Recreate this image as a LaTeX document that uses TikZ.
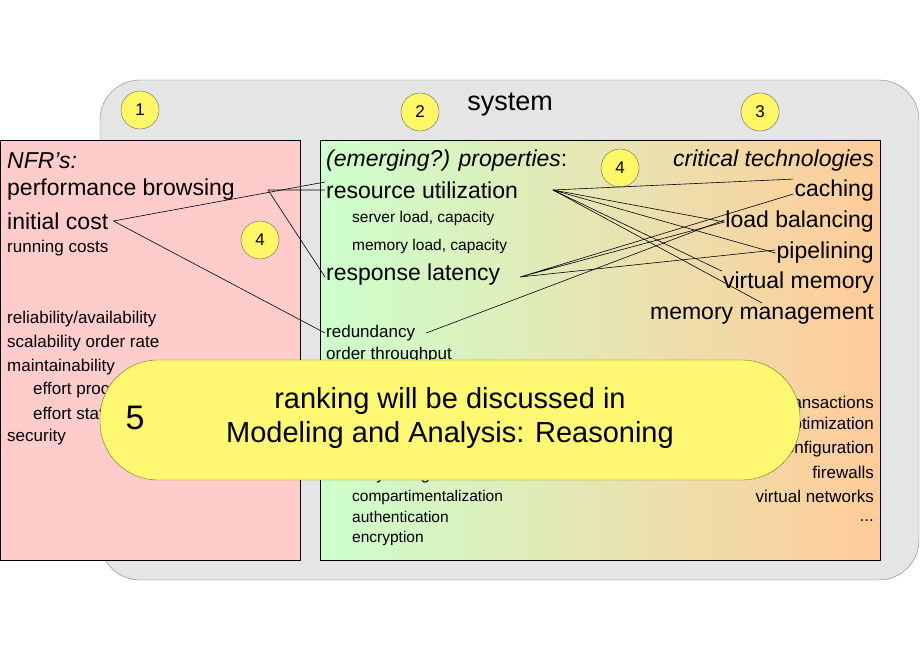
\documentclass[tikz,border=0pt]{standalone}
\usepackage{fontspec}
\setmainfont{Liberation Sans}
\begin{document}
\begin{tikzpicture}[x=1pt,y=-1pt,
 num/.style={circle,draw=black!60,fill=yellow!60,minimum size=38pt,inner sep=0pt,font=\fontsize{17}{17}\selectfont},
 big/.style={font=\fontsize{23}{23}\selectfont,inner sep=1pt},
 mid/.style={font=\fontsize{17}{17}\selectfont,inner sep=1pt},
 sm/.style={font=\fontsize{15.5}{15.5}\selectfont,inner sep=1pt},
 ln/.style={black,line width=0.6pt}]
\useasboundingbox (0,0) rectangle (920,660);
\draw[draw=black!50,fill=black!10,rounded corners=40] (100,80) rectangle (919,580);
\node[font=\fontsize{27}{27}\selectfont] (sys) at (510,105) {system};
\draw[fill=red!20] (0,140) rectangle (300,560);
\shade[left color=green!20,right color=orange!40] (320,140) rectangle (880,560);
\draw (320,140) rectangle (880,560);
\node[num] (c1) at (140,110) {1};
\node[num] (c2) at (420,112) {2};
\node[num] (c3) at (760,112) {3};
\node[num] (c4a) at (620,168) {4};
\node[num] (c4b) at (260,240) {4};
% left
\node[big,anchor=west] (nfr) at (6,161) {\itshape NFR's:};
\node[big,anchor=west] (pb) at (6,190) {performance browsing};
\node[big,anchor=west] (ic) at (6,221) {initial cost};
\node[mid,anchor=west] (rc) at (6,248) {running costs};
\node[mid,anchor=west] (ra) at (6,319) {reliability/availability};
\node[mid,anchor=west] (so) at (6,343) {scalability order rate};
\node[mid,anchor=west] (ma) at (6,367) {maintainability};
\node[mid,anchor=west] (ep) at (32,390) {effort process};
\node[mid,anchor=west] (es) at (32,413) {effort staff};
\node[mid,anchor=west] (se) at (6,437) {security};
% middle
\node[big,anchor=west] (ep2) at (325,161) {\itshape (emerging?) properties\upshape:};
\node[big,anchor=west] (ru) at (325,190) {resource utilization};
\node[sm,anchor=west] (sl) at (351,218) {server load, capacity};
\node[sm,anchor=west] (ml) at (351,246) {memory load, capacity};
\node[big,anchor=west] (rl) at (325,275) {response latency};
\node[mid,anchor=west] (rd) at (325,333) {redundancy};
\node[mid,anchor=west] (ot) at (325,355) {order throughput};
\node[mid,anchor=west] (sd) at (325,475) {security design};
\node[sm,anchor=west] (cm) at (351,497) {compartimentalization};
\node[sm,anchor=west] (au) at (351,517) {authentication};
\node[sm,anchor=west] (en) at (351,538) {encryption};
% right
\node[big,anchor=east] (ct) at (875,161) {\itshape critical technologies};
\node[big,anchor=east] (ca) at (875,191) {caching};
\node[big,anchor=east] (lb) at (875,222) {load balancing};
\node[big,anchor=east] (pi) at (875,253) {pipelining};
\node[big,anchor=east] (vm) at (875,283) {virtual memory};
\node[big,anchor=east] (mm) at (875,314) {memory management};
\node[mid,anchor=east] (tr) at (875,402) {transactions};
\node[mid,anchor=east] (op) at (875,425) {optimization};
\node[mid,anchor=east] (co) at (875,449) {configuration};
\node[mid,anchor=east] (fw) at (875,472) {firewalls};
\node[mid,anchor=east] (vn) at (875,496) {virtual networks};
\node[mid,anchor=east] (dd) at (875,521) {...};
% connectors
\coordinate (pbe) at (268,190);
\draw[ln] (pbe) -- (ru.west) (pbe) -- ([yshift=-2pt]rl.west);
\draw[ln] ([xshift=4pt]ic.east) -- ([yshift=8pt]ru.west) ([xshift=4pt]ic.east) -- (rd.west);
\coordinate (rue) at (553,190);
\foreach \t/\a in {ca/north west,lb/west,pi/west,vm/north west,mm/north} \draw[ln] (rue) -- (\t.\a);
\coordinate (rle) at (520,277);
\draw[ln] (rle) -- ([yshift=-3pt]ca.west) (rle) -- (lb.west) (rle) -- ([yshift=3pt]pi.west);
\draw[ln] ([xshift=10pt]rd.east) -- ([yshift=2pt]lb.west);
% banner
\draw[draw=olive!80!black,fill=yellow!55,rounded corners=58] (100,360) rectangle (800,480);
\node[font=\fontsize{34}{34}\selectfont] (five) at (135,418) {5};
\node[font=\fontsize{29}{34}\selectfont,align=center] (rk) at (450,418) {ranking will be discussed in\\Modeling and Analysis: Reasoning};
\end{tikzpicture}
\end{document}
